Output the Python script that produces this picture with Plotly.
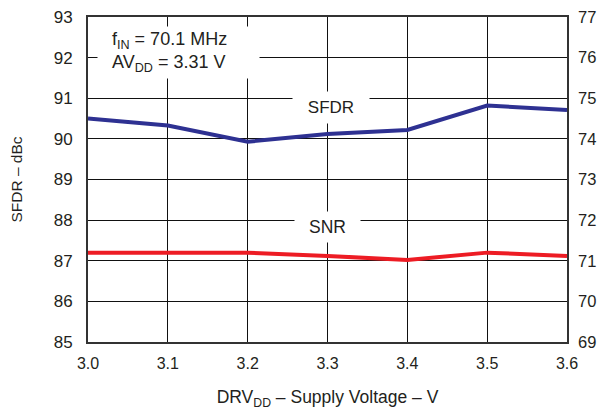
import plotly.graph_objects as go

voltage = [3.0, 3.1, 3.2, 3.3, 3.4, 3.5, 3.6]
sfdr = [90.5, 90.33, 89.93, 90.12, 90.22, 90.82, 90.71]
snr = [71.2, 71.2, 71.2, 71.12, 71.02, 71.2, 71.12]

FONT = "Liberation Sans, Arial, sans-serif"
TXT = "#231f20"

fig = go.Figure()
fig.add_trace(go.Scatter(x=voltage, y=sfdr, mode="lines", name="SFDR",
                         line=dict(color="#2e3192", width=4)))
fig.add_trace(go.Scatter(x=voltage, y=snr, mode="lines", name="SNR", yaxis="y2",
                         line=dict(color="#ed1c24", width=4)))

ann_style = dict(showarrow=False, bgcolor="white", borderpad=0)
fig.update_layout(
    width=613,
    height=412,
    paper_bgcolor="white",
    plot_bgcolor="white",
    showlegend=False,
    margin=dict(l=80, r=54, t=9, b=78, autoexpand=False),
    font=dict(family=FONT, size=15, color=TXT),
    xaxis=dict(
        range=[3.0, 3.6], dtick=0.1, tickformat=".1f", automargin=False,
        showgrid=True, gridcolor="#111", gridwidth=1,
        showline=True, mirror=True, linecolor="#333", linewidth=2,
        ticks="", ticklabelstandoff=6, zeroline=False, tickfont=dict(size=16),
        title=dict(text="DRV<sub>DD</sub> – Supply Voltage – V", standoff=20,
                   font=dict(size=17.5)),
    ),
    yaxis=dict(
        range=[85, 93], dtick=1, automargin=False, ticklabeloverflow="allow",
        showgrid=True, gridcolor="#111", gridwidth=1,
        showline=True, mirror=True, linecolor="#333", linewidth=2,
        ticks="", ticklabelstandoff=10, zeroline=False, tickfont=dict(size=17),
        title=dict(text="SFDR – dBc", standoff=34, font=dict(size=15.5)),
    ),
    yaxis2=dict(
        range=[69, 77], dtick=1, overlaying="y", side="right", automargin=False,
        ticklabeloverflow="allow",
        showgrid=False, ticks="", ticklabelstandoff=10, zeroline=False,
        tickfont=dict(size=16.5),
    ),
    annotations=[
        # white box behind the condition text
        dict(x=3.011, y=92.13, xref="x", yref="y", xanchor="left", yanchor="middle",
             text="&nbsp;", width=161, height=51, **ann_style),
        dict(x=3.0275, y=92.13, xref="x", yref="y", xanchor="left", yanchor="middle",
             align="left", showarrow=False,
             text="f<sub>IN</sub> = 70.1 MHz<br>AV<sub>DD</sub> = 3.31 V",
             font=dict(family=FONT, size=18, color=TXT)),
        dict(x=3.304, y=90.78, xref="x", yref="y", text="SFDR",
             width=76, height=31, font=dict(family=FONT, size=17, color=TXT),
             **ann_style),
        dict(x=3.3, y=87.82, xref="x", yref="y", text="SNR",
             width=65, height=30, font=dict(family=FONT, size=17.5, color=TXT),
             **ann_style),
    ],
)

fig.write_html("out.html")
